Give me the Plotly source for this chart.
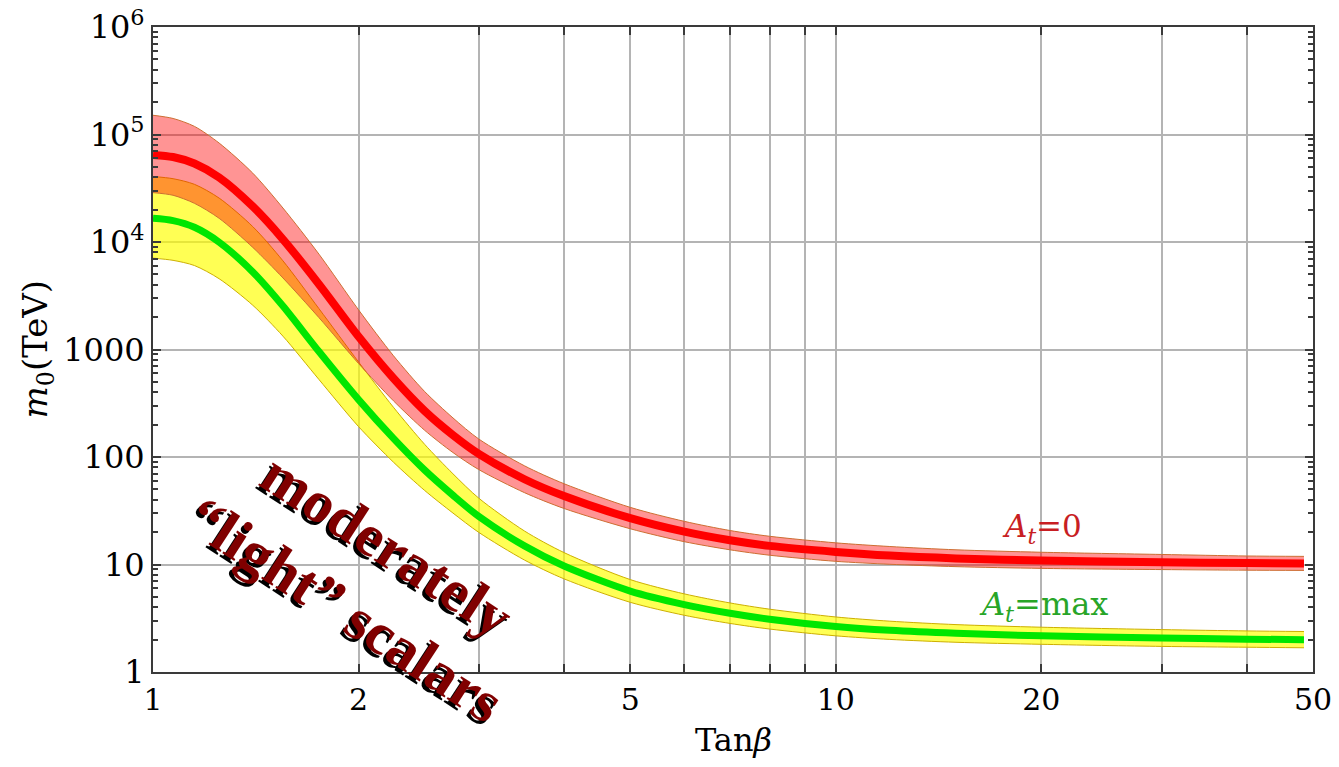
import plotly.graph_objects as go

# ---- data ----
tanb = [1, 1.07, 1.15, 1.25, 1.4, 1.55, 1.75, 2.0, 2.25, 2.5, 2.75, 3, 3.5, 4, 5, 6, 7, 8, 10, 12, 15, 20, 30, 40, 48.5]

# A_t = 0 (red)
red_mid = [64600, 61700, 53700, 39800, 21400, 10600, 4050, 1320, 540, 268, 160, 107, 62.1, 43.3, 27.0, 20.2, 16.8, 14.9, 13.1, 12.1, 11.4, 10.9, 10.5, 10.3, 10.2]
red_hi = [151000, 141000, 119000, 83200, 43700, 20700, 7710, 2340, 875, 406, 231, 147, 82.8, 56.4, 34.0, 25.2, 20.7, 18.3, 15.9, 14.7, 13.7, 13.0, 12.4, 12.0, 11.9]
red_lo = [28800, 27200, 22900, 16600, 8910, 4630, 1980, 741, 333, 177, 110, 76.4, 46.6, 33.2, 21.5, 16.3, 13.7, 12.2, 10.7, 10.05, 9.55, 9.20, 8.97, 8.85, 8.81]

# A_t = max (green)
grn_mid = [16600, 15800, 13700, 9950, 5270, 2540, 957, 342, 149, 75.5, 44.1, 28.0, 14.9, 9.68, 5.66, 4.24, 3.52, 3.10, 2.65, 2.44, 2.29, 2.17, 2.07, 2.02, 2.0]
yel_hi = [40700, 38800, 34400, 25600, 13900, 6680, 2400, 766, 290, 131, 69.8, 41.4, 20.5, 12.9, 7.24, 5.33, 4.39, 3.84, 3.25, 2.97, 2.76, 2.61, 2.48, 2.41, 2.38]
yel_lo = [7080, 6750, 6040, 4550, 2580, 1330, 526, 192, 89.5, 48.8, 30.1, 19.9, 11.0, 7.35, 4.45, 3.37, 2.83, 2.51, 2.17, 2.01, 1.89, 1.81, 1.73, 1.70, 1.68]

x_tickvals = [1, 2, 3, 4, 5, 6, 7, 8, 9, 10, 20, 30, 40, 50]
x_ticktext = ["1", "2", "", "", "5", "", "", "", "", "10", "20", "", "", "50"]
y_tickvals = [1, 10, 100, 1000, 1e4, 1e5, 1e6]
y_ticktext = ["1", "10", "100", "1000", "10<sup>4</sup>", "10<sup>5</sup>", "10<sup>6</sup>"]
y_minor = [k * 10 ** d for d in range(6) for k in range(2, 10)]

SERIF = "DejaVu Serif"

fig = go.Figure()

# yellow band (A_t = max)
fig.add_trace(go.Scatter(x=tanb, y=yel_lo, mode="lines",
                         line=dict(color="rgb(205,175,0)", width=1, shape="spline", smoothing=0.8),
                         showlegend=False, hoverinfo="skip"))
fig.add_trace(go.Scatter(x=tanb, y=yel_hi, mode="lines",
                         line=dict(color="rgb(205,175,0)", width=1, shape="spline", smoothing=0.8),
                         fill="tonexty", fillcolor="rgba(255,255,0,0.67)", showlegend=False, hoverinfo="skip"))
# red band (A_t = 0)
fig.add_trace(go.Scatter(x=tanb, y=red_lo, mode="lines",
                         line=dict(color="rgb(205,110,50)", width=1, shape="spline", smoothing=0.8),
                         showlegend=False, hoverinfo="skip"))
fig.add_trace(go.Scatter(x=tanb, y=red_hi, mode="lines",
                         line=dict(color="rgb(205,110,50)", width=1, shape="spline", smoothing=0.8),
                         fill="tonexty", fillcolor="rgba(255,0,0,0.42)", showlegend=False, hoverinfo="skip"))
# central lines
fig.add_trace(go.Scatter(x=tanb, y=red_mid, mode="lines",
                         line=dict(color="rgb(255,0,0)", width=8, shape="spline", smoothing=0.8),
                         showlegend=False))
fig.add_trace(go.Scatter(x=tanb, y=grn_mid, mode="lines",
                         line=dict(color="rgb(0,230,0)", width=7, shape="spline", smoothing=0.8),
                         showlegend=False))

axis_common = dict(
    automargin=False, ticklabeloverflow="allow",
    showline=True, linecolor="#3a3a3a", linewidth=2, mirror="ticks",
    ticks="inside", ticklen=8, tickwidth=1.5, tickcolor="#3a3a3a",
    showgrid=True, gridcolor="rgb(180,180,180)", gridwidth=2,
    zeroline=False,
)

fig.update_xaxes(type="log", range=[0, 1.69897], tickmode="array",
                 tickvals=x_tickvals, ticktext=x_ticktext,
                 tickfont=dict(family=SERIF, size=30, color="black"), **axis_common)
fig.update_yaxes(type="log", range=[0, 6], tickmode="array",
                 tickvals=y_tickvals, ticktext=y_ticktext,
                 tickfont=dict(family=SERIF, size=32, color="black"),
                 minor=dict(tickmode="array", tickvals=y_minor, ticks="inside", ticklen=5,
                            tickcolor="#3a3a3a", showgrid=False),
                 **axis_common)

annos = [
    # axis titles
    dict(text="Tan<i>β</i>", xref="paper", yref="paper", x=0.5, y=-0.0729, xanchor="center", yanchor="top",
         showarrow=False, font=dict(family=SERIF, size=32, color="black")),
    dict(text="<i>m</i><sub>0</sub>(TeV)", xref="paper", yref="paper", x=-0.1, y=0.5, xanchor="center",
         yanchor="middle", textangle=-90, showarrow=False, font=dict(family=SERIF, size=34, color="black")),
    # curve labels
    dict(text="<i>A<sub>t</sub></i>=0", xref="paper", yref="paper", x=0.766, y=0.223, xanchor="center",
         yanchor="middle", showarrow=False, font=dict(family=SERIF, size=31, color="rgb(200,30,35)")),
    dict(text="<i>A<sub>t</sub></i>=max", xref="paper", yref="paper", x=0.768, y=0.102, xanchor="center",
         yanchor="middle", showarrow=False, font=dict(family=SERIF, size=32, color="rgb(40,165,40)")),
]
big_text = "moderately<br>“light” scalars"
for col, dx, dy in [("black", -3, -3), ("rgb(128,0,0)", 0, 0)]:
    annos.append(dict(text="<b>" + big_text + "</b>", xref="paper", yref="paper", x=0.184, y=0.146,
                      xanchor="center", yanchor="middle", textangle=33, showarrow=False,
                      xshift=dx, yshift=dy,
                      font=dict(family="Liberation Serif", size=59, color=col)))

# page body adds an 8px margin, so the figure is sized/offset to land the plot box where the reference has it
fig.update_layout(
    width=1323, height=751,
    margin=dict(l=145, r=18, t=19, b=87),
    paper_bgcolor="white", plot_bgcolor="white",
    annotations=annos,
    showlegend=False,
)

fig.write_html("out.html")
